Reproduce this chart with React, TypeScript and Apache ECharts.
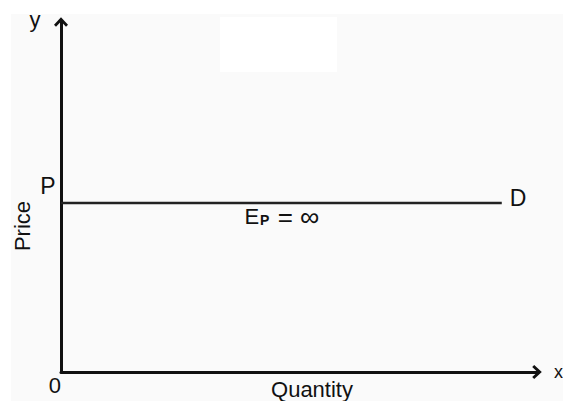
import { useEffect, useRef } from "react";
import * as echarts from "echarts";

// Axis ranges (abstract units)
const X_MAX = 10;
const Y_MAX = 10;

// Perfectly elastic demand: a constant price P at every quantity
const PRICE = 4.83;
const DEMAND_QTY = [0, 4.64, 9.26];
const DEMAND_PRICE = [PRICE, PRICE, PRICE];

// Texts
const X_TICK_LABELS = ["0"];
const X_AXIS_TITLE = "Quantity";
const Y_AXIS_TITLE = "Price";
const X_END_LABEL = "x";
const Y_END_LABEL = "y";
const PRICE_LABEL = "P";
const CURVE_LABEL = "D";

const FONT = "Liberation Sans, Arial, sans-serif";
const INK = "#111111";

// Open chevron arrow head, pointing up (rotated by ECharts along each axis)
const ARROW = "path://M7 0 L14 7.6 L12 9.6 L7 4.3 L2 9.6 L0 7.6 Z";

export default function App() {
  const ref = useRef<HTMLDivElement>(null);

  useEffect(() => {
    document.body.style.margin = "0";
    if (!ref.current) return;
    const chart = echarts.init(ref.current, null, { renderer: "svg" });

    const axisLine = {
      show: true,
      symbol: ["none", ARROW],
      symbolSize: [14, 10],
      lineStyle: { color: INK, width: 3 },
    };

    const demandData = DEMAND_QTY.map((q, i) => {
      const item: any = { value: [q, DEMAND_PRICE[i]] };
      if (i === 0) {
        item.label = {
          show: true,
          position: "left",
          distance: 5,
          offset: [0, -17],
          formatter: PRICE_LABEL,
          fontSize: 23,
          color: INK,
          fontFamily: FONT,
        };
      } else if (i === 1) {
        item.label = {
          show: true,
          position: "bottom",
          distance: 0,
          formatter: "{e|E}{s|P}{q| = }{i|∞}",
          rich: {
            e: { fontSize: 22, color: INK, fontFamily: FONT },
            s: { fontSize: 14, fontWeight: "bold", color: INK, fontFamily: FONT, padding: [6, 1, 0, 1] },
            q: { fontSize: 26, color: INK, fontFamily: FONT },
            i: { fontSize: 27, color: INK, fontFamily: FONT },
          },
        };
      }
      return item;
    });

    chart.setOption({
      animation: false,
      backgroundColor: "#ffffff",
      graphic: [
        { type: "rect", z: -10, shape: { x: 11, y: 14, width: 552, height: 387 }, style: { fill: "#fafafa" } },
        { type: "rect", z: -9, shape: { x: 220, y: 17, width: 117, height: 55 }, style: { fill: "#ffffff" } },
      ],
      grid: { left: 61, right: 26, top: 22, bottom: 29, containLabel: false, outerBoundsMode: "none" },
      xAxis: [
        {
          type: "value",
          min: 0,
          max: X_MAX,
          interval: X_MAX,
          position: "bottom",
          axisLine,
          axisTick: { show: false },
          splitLine: { show: false },
          axisLabel: {
            show: true,
            showMaxLabel: false,
            margin: 2,
            align: "right",
            fontSize: 22,
            color: INK,
            fontFamily: FONT,
            formatter: (v: number) => (v === 0 ? X_TICK_LABELS[0] : ""),
          },
          name: X_AXIS_TITLE,
          nameLocation: "middle",
          nameGap: 6,
          nameMoveOverlap: false,
          nameTextStyle: { fontSize: 22, color: INK, fontFamily: FONT, padding: [0, 0, 0, 26] },
        },
        {
          type: "value",
          min: 0,
          max: X_MAX,
          position: "bottom",
          axisLine: { show: false },
          axisTick: { show: false },
          axisLabel: { show: false },
          splitLine: { show: false },
          name: X_END_LABEL,
          nameLocation: "end",
          nameGap: 17,
          nameMoveOverlap: false,
          nameTextStyle: { fontSize: 18, color: INK, fontFamily: FONT },
        },
      ],
      yAxis: [
        {
          type: "value",
          min: 0,
          max: Y_MAX,
          position: "left",
          axisLine,
          axisTick: { show: false },
          axisLabel: { show: false },
          splitLine: { show: false },
          name: Y_AXIS_TITLE,
          nameLocation: "middle",
          nameRotate: 90,
          nameGap: 28,
          nameMoveOverlap: false,
          nameTextStyle: { fontSize: 22, color: INK, fontFamily: FONT, padding: [0, 58, 0, 0] },
        },
        {
          type: "value",
          min: 0,
          max: Y_MAX,
          position: "left",
          axisLine: { show: false },
          axisTick: { show: false },
          axisLabel: { show: false },
          splitLine: { show: false },
          name: Y_END_LABEL,
          nameLocation: "end",
          nameGap: -8,
          nameMoveOverlap: false,
          nameTextStyle: { fontSize: 22, color: INK, fontFamily: FONT, padding: [0, 52, 0, 0] },
        },
      ],
      series: [
        {
          type: "line",
          xAxisIndex: 0,
          yAxisIndex: 0,
          data: demandData,
          showSymbol: true,
          symbol: "circle",
          symbolSize: 1,
          itemStyle: { color: "rgba(0,0,0,0)" },
          lineStyle: { color: "#222222", width: 2.5 },
          endLabel: {
            show: true,
            formatter: CURVE_LABEL,
            distance: 8,
            offset: [0, -5],
            fontSize: 23,
            color: INK,
            fontFamily: FONT,
          },
          silent: true,
        },
      ],
    });

    return () => chart.dispose();
  }, []);

  return (
    <div
      ref={ref}
      style={{ position: "fixed", left: 0, top: 0, width: 563, height: 401 }}
    />
  );
}
